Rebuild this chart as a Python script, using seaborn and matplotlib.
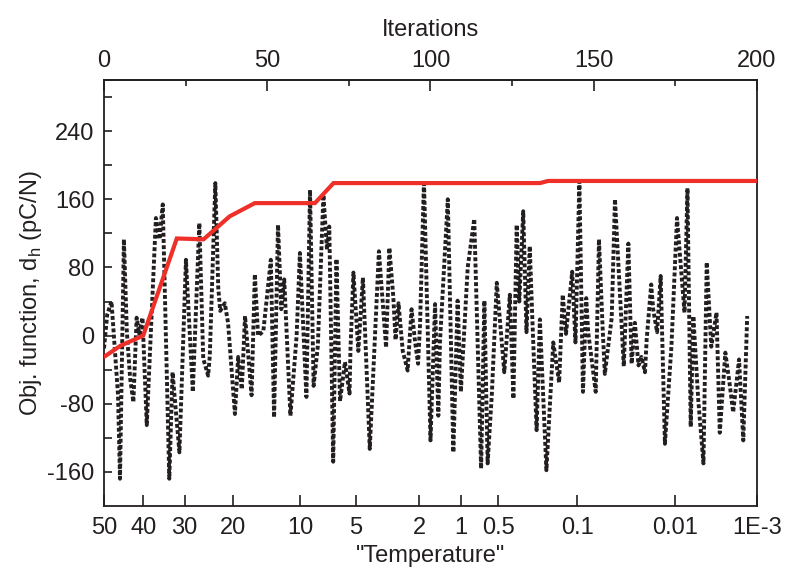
import matplotlib
matplotlib.use("Agg")
import matplotlib.pyplot as plt
from matplotlib.ticker import FixedLocator, NullFormatter
import seaborn as sns
import pandas as pd

# ---- data ----
obj_iter = [0, 1, 2.3, 4.3, 4.9, 6.1, 7, 8, 9, 10, 10.8, 11.8, 13.1, 15.9, 17, 18, 20, 21, 23.1, 25.1,
            27.2, 29.2, 30.4, 31.9, 32.4, 34.1, 35, 35.6, 37, 38, 40.1, 41.1, 42.2, 43.2, 45.2, 46.2,
            47.2, 48.8, 51.1, 52.1, 53.3, 54.3, 55.2, 57.1, 59, 60, 62, 63.1, 64.2, 65.5, 67.2, 68.3,
            69, 70.2, 71.2, 72.3, 73.8, 75.2, 75.5, 76.4, 77.9, 79.3, 81.4, 84.2, 86.4, 87.4, 88.6,
            89.3, 90.2, 91.5, 93, 94.2, 95.3, 96.2, 96.8, 98, 100, 101.4, 102.4, 102.9, 105.3, 107,
            108.3, 109.3, 111.4, 113.4, 115.5, 116.5, 117.5, 118.8, 120.3, 122.6, 124.3, 125.4, 126.4,
            127.2, 128.4, 129.4, 130.4, 131.2, 132.5, 133.5, 135.5, 137.6, 139.4, 140.5, 141.5, 143.4,
            144.4, 145.6, 146.7, 147.7, 148.3, 150.6, 151.6, 152.7, 153.4, 155.5, 156.5, 159.2, 160.6,
            161.6, 162.6, 163.7, 164.6, 165.7, 166.2, 167.6, 168.2, 169.4, 170.5, 171.8, 173.8, 175.5,
            177.8, 178.7, 179.7, 180.5, 182, 183.6, 184.6, 186, 187.6, 188.6, 190.3, 191.5, 192.7,
            194.5, 195.8, 197]
obj_val = [-15, 25, 40, -70, -168, 113, 5, -50, -78, 21, 2, 21, -105, 138, 113, 154, -168, -43, -137, 89,
           -66, 132, -27, -47, -24, 179, 56, 29, 38, 15, -92, -25, -63, 23, -70, 72,
           0, 5, 89, -96, 130, 31, 66, -94, 0, 97, -72, 171, -59, -12, 165, 101,
           128, -148, 90, -77, -31, -68, -15, 74, -18, 68, -133, 99, -14, 103, 46,
           -5, 38, -18, -41, 31, -8, -33, 13, 182, -123, 37, -94, -8, 160, -137,
           41, -66, 80, 137, -156, 41, -150, -68, 62, -43, 48, -74, 130,
           40, 146, 4, 105, 19, -111, 19, -158, -8, -55, 48, 2, 75,
           -8, 181, -66, 44, 4, -66, 113, 11, -45, 21, 160, -36, 108,
           -33, 15, -35, -25, -43, -5, 60, 31, 4, 70, -127, -12, 138,
           27, 173, -107, 23, -75, -150, 86, -13, 27, -114, -20, -53, -90,
           -28, -123, 23]

best_iter = [0, 5, 12, 22.3, 30.5, 38.5, 46.2, 64.6, 70.3, 133.5, 136, 200]
best_val = [-25, -12, 0, 114, 113, 140, 155.5, 155.5, 179, 179, 181.5, 181.5]

iter_ticks = [0, 50, 100, 150, 200]
iter_minor = [25, 75, 125, 175]
temp_pos = [0, 12.1, 24.7, 39.5, 60.0, 77.2, 96.5, 109.2, 120.8, 145.0, 174.9, 200]
temp_labels = ["50", "40", "30", "20", "10", "5", "2", "1", "0.5", "0.1", "0.01", "1E-3"]
y_major = [-160, -80, 0, 80, 160, 240]
y_minor = [-120, -40, 40, 120, 200, 280]

df_obj = pd.DataFrame({"iter": obj_iter, "val": obj_val})
df_best = pd.DataFrame({"iter": best_iter, "val": best_val})

sns.set_style("ticks")
plt.rcParams["font.family"] = ["Liberation Sans Narrow", "Liberation Sans", "DejaVu Sans"]
plt.rcParams["mathtext.fontset"] = "custom"
plt.rcParams["mathtext.rm"] = "Liberation Sans"
plt.rcParams["axes.unicode_minus"] = False

fig = plt.figure(figsize=(7.86, 5.73), dpi=100)
ax = fig.add_axes([0.1323, 0.1169, 0.8308, 0.7435])

sns.lineplot(data=df_obj, x="iter", y="val", ax=ax, color="#231f20", linewidth=2.8,
             linestyle=(0, (1.0, 0.6)), dash_capstyle="butt", sort=False, zorder=2)
sns.lineplot(data=df_best, x="iter", y="val", ax=ax, color="#ee3029", linewidth=3.0,
             sort=False, zorder=3, solid_joinstyle="miter")

ax.set_xlim(0, 200)
ax.set_ylim(-200, 300)

fs = 17
ax.yaxis.set_major_locator(FixedLocator(y_major))
ax.yaxis.set_minor_locator(FixedLocator(y_minor))
ax.yaxis.set_minor_formatter(NullFormatter())
ax.set_xticks(temp_pos)
ax.set_xticklabels(temp_labels)
ax.tick_params(axis="both", which="major", direction="in", length=6, width=1.2,
               labelsize=fs, pad=7, color="#231f20", labelcolor="#231f20")
ax.tick_params(axis="y", which="minor", direction="in", length=6, width=1.2, color="#231f20")
ax.tick_params(axis="x", which="major", length=8, pad=8)
ax.tick_params(right=False, top=False)

ax.set_xlabel('"Temperature"', fontsize=fs, labelpad=4, color="#231f20")
ax.set_ylabel(r"Obj. function, d$_{\mathregular{h}}$ (pC/N)", fontsize=fs, labelpad=2, color="#231f20")

for sp in ax.spines.values():
    sp.set_linewidth(1.3)
    sp.set_color("#231f20")

top = ax.secondary_xaxis("top")
top.set_xticks(iter_ticks)
top.xaxis.set_minor_locator(FixedLocator(iter_minor))
top.tick_params(axis="x", which="major", direction="in", length=8, width=1.2,
                labelsize=fs, pad=6, color="#231f20", labelcolor="#231f20")
top.tick_params(axis="x", which="minor", direction="in", length=4, width=1.2, color="#231f20")
top.set_xlabel("Iterations", fontsize=fs, labelpad=10, color="#231f20")
top.spines["top"].set_linewidth(1.3)

fig.savefig("out.png", dpi=100)
